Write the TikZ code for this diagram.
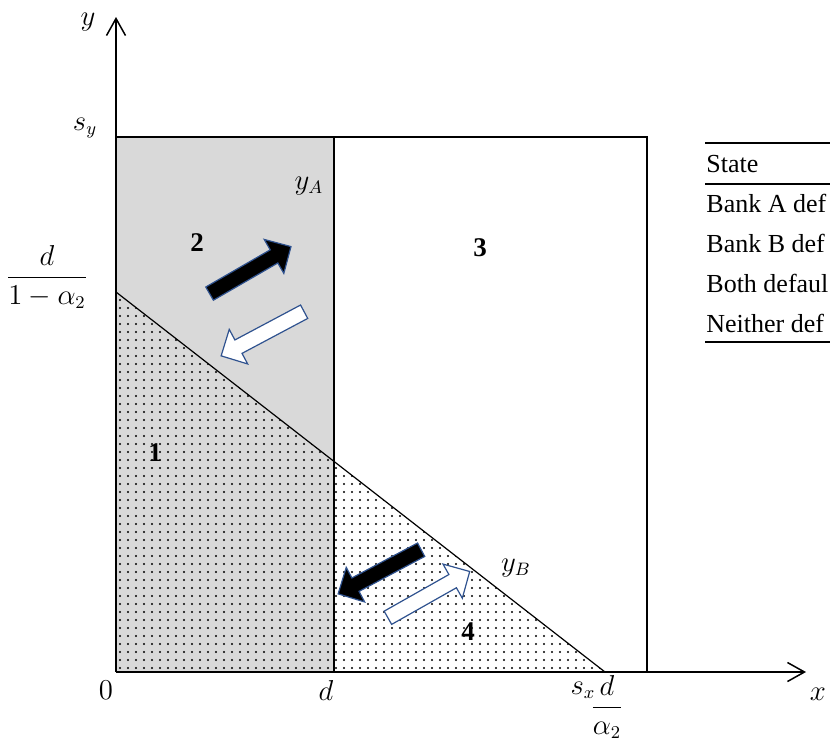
\documentclass[tikz,border=0pt]{standalone}
\usepackage{amsmath}
\usepackage{fontspec}
\setmainfont{Liberation Serif}
\usepackage{tikz}
\usetikzlibrary{arrows.meta,patterns.meta,shapes.arrows}
\definecolor{RegionGray}{HTML}{D9D9D9}
\definecolor{ArrowBlue}{HTML}{2F528F}
\tikzdeclarepattern{name=bankdots,type=uncolored,
  bounding box={(-1pt,-1pt) and (1pt,1pt)},tile size={(4pt,4pt)},
  code={\fill (0pt,0pt) circle (0.6pt);}}
\tikzset{
  blockarrow/.style={single arrow,draw=ArrowBlue,line width=0.6pt,inner sep=3.5pt,
    minimum width=19pt,single arrow head extend=6pt,minimum height=47pt},
  regionlabel/.style={font=\fontsize{13.5}{16}\bfseries},
  axisline/.style={line width=0.75pt,-{Straight Barb[length=8.5pt,width=9.5pt]}},
  tablerow/.style={anchor=base west,inner sep=0pt,font=\fontsize{13}{16}\selectfont}
}

\begin{document}
\begin{tikzpicture}[x=0.5pt,y=-0.5pt,font=\fontsize{13.5}{16}\selectfont]
  \useasboundingbox (0,0) rectangle (830,740);
  \clip (0,0) rectangle (830,740);
  % corners of the regions
  \coordinate (O) at (116,672);
  \coordinate (dTop) at (334,137);
  \coordinate (dBot) at (334,672);
  \coordinate (yBleft) at (116,292);
  \coordinate (yBmid) at (334,461.4);
  \coordinate (yBright) at (605,672);
  % shading
  \fill[RegionGray] (116,137) rectangle (dBot);
  \fill[pattern=bankdots,pattern color=black] (yBleft)--(yBmid)--(dBot)--(O)--cycle;
  \fill[pattern=bankdots,pattern color=black] (yBmid)--(yBright)--(dBot)--cycle;
  % boundaries
  \draw[line width=0.75pt] (116,137)--(647,137)--(647,672);
  \draw[line width=0.75pt] (dTop)--(dBot);
  \draw[line width=1.4pt] (334,162)--(334,243);
  \draw[line width=1.4pt] (116,162)--(116,177);
  \draw[line width=0.6pt] (yBleft)--(yBright);
  % axes
  \draw[axisline] (O)--(116,17);
  \draw[axisline] (O)--(806,672);
  \node (ylab) at (88,22) {$y$};
  \node (xlab) at (818,694) {$x$};
  \node (sylab) at (85,128) {$s_y$};
  \node (dalab) at (47,277) {$\dfrac{d}{1-\alpha_2}$};
  \node (zerolab) at (106,690) {$0$};
  \node (dlab) at (326,690) {$d$};
  \node (sxlab) at (583,690) {$s_x$};
  \node[inner sep=0pt] (dalpha) at (607,707) {$\dfrac{d}{\alpha_2}$};
  \node (yAlab) at (309,186) {$y_A$};
  \node (yBlab) at (516,568) {$y_B$};
  % regions
  \node[regionlabel] (reg1) at (155,453) {1};
  \node[regionlabel] (reg2) at (197,243) {2};
  \node[regionlabel] (reg3) at (480,248) {3};
  \node[regionlabel] (reg4) at (468,632) {4};
  % moves between the regions
  \node[blockarrow,fill=black,rotate=30] (upA) at (247,272) {};
  \node[blockarrow,fill=white,rotate=208] (downA) at (266,332) {};
  \node[blockarrow,fill=black,rotate=208] (downB) at (383,570) {};
  \node[blockarrow,fill=white,rotate=29.5] (upB) at (425.5,596.5) {};
  % table of states
  \draw[line width=1pt] (705,143)--(830,143);
  \draw[line width=0.75pt] (705,184)--(830,184);
  \draw[line width=1pt] (705,342)--(830,342);
  \node[tablerow] (state) at (706,172) {State};
  \node[tablerow] (rowA) at (706,212) {Bank A def};
  \node[tablerow] (rowB) at (706,252) {Bank B def};
  \node[tablerow] (rowAB) at (706,292) {Both defaul};
  \node[tablerow] (rowN) at (706,332) {Neither def};
\end{tikzpicture}
\end{document}
